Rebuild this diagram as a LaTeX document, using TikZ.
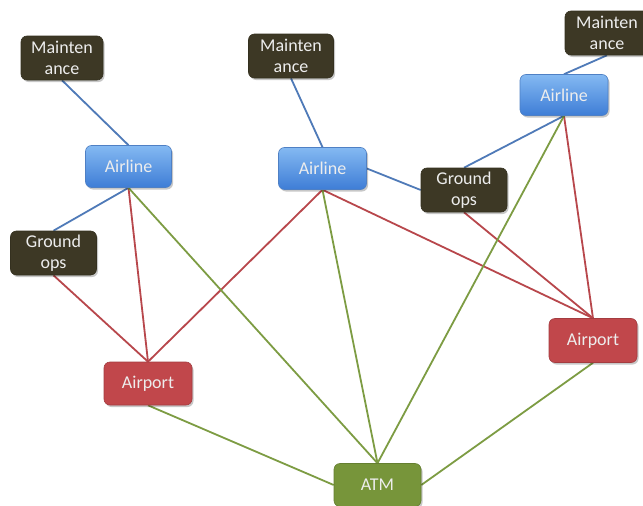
\documentclass[tikz,border=0pt]{standalone}
\usepackage{fontspec}
\setmainfont{Carlito}
\usetikzlibrary{shadows}

\definecolor{opsbrown}{HTML}{3D3825}
\definecolor{airtop}{HTML}{84B9F2}
\definecolor{airbot}{HTML}{3E7DD6}
\definecolor{airedge}{HTML}{4F80C4}
\definecolor{portred}{HTML}{C1474B}
\definecolor{atmgreen}{HTML}{77953A}
\definecolor{edgeblue}{HTML}{4F7AB8}
\definecolor{edgered}{HTML}{B8474C}
\definecolor{edgegreen}{HTML}{7D9C43}

\pgfdeclarelayer{paper}
\pgfdeclarelayer{links}
\pgfsetlayers{paper,links,main}

\tikzset{
  box/.style={rounded corners=6pt, minimum width=86pt, minimum height=44pt,
    inner sep=0pt, align=center, font=\fontsize{18}{20.5}\selectfont,
    text=white!93!black,
    drop shadow={shadow xshift=1.5pt, shadow yshift=-2pt, opacity=0.22, fill=black}},
  supportbox/.style={box, fill=opsbrown, draw=opsbrown!85!black, line width=0.6pt},
  airlinebox/.style={box, top color=airtop, bottom color=airbot, draw=airedge, line width=0.6pt},
  airportbox/.style={box, fill=portred, draw=portred!85!black, line width=0.6pt},
  atmbox/.style={box, fill=atmgreen, draw=atmgreen!85!black, line width=0.6pt},
  bluelink/.style={draw=edgeblue, line width=1.8pt},
  redlink/.style={draw=edgered, line width=1.8pt},
  greenlink/.style={draw=edgegreen, line width=1.8pt},
}

\begin{document}
\begin{tikzpicture}[x=1pt, y=-1pt]
  \clip (0,0) rectangle (643,506);
  \begin{pgfonlayer}{paper}
    \fill[white] (0,0) rectangle (643,506);
  \end{pgfonlayer}

  % maintenance and ground handling units
  \node[supportbox, minimum width=82pt] (m1) at (62,58) {Mainten\\ance};
  \node[supportbox, minimum width=85pt] (m2) at (291,56) {Mainten\\ance};
  \node[supportbox, minimum width=84pt] (m3) at (607,33) {Mainten\\ance};
  \node[supportbox] (g1) at (53.5,253) {Ground\\ops};
  \node[supportbox] (g2) at (464,190) {Ground\\ops};

  % airlines
  \node[airlinebox, minimum height=42pt] (a1) at (128.5,166.5) {Airline};
  \node[airlinebox, minimum width=88pt, minimum height=42pt] (a2) at (322.5,168.5) {Airline};
  \node[airlinebox, minimum width=88pt, minimum height=41pt] (a3) at (564,95) {Airline};

  % airports and air traffic management
  \node[airportbox, minimum width=88pt, minimum height=43pt] (p1) at (148,383.5) {Airport};
  \node[airportbox, minimum width=88pt] (p2) at (593,340.5) {Airport};
  \node[atmbox, minimum width=87pt, minimum height=43pt] (atm) at (377.5,485) {ATM};

  \begin{pgfonlayer}{links}
    % airline internal relations
    \draw[bluelink] (m1.south) -- (a1.north);
    \draw[bluelink] (m2.south) -- (a2.north);
    \draw[bluelink] (m3.south) -- (a3.north);
    \draw[bluelink] (a1.south) -- (g1.north);
    \draw[bluelink] (a3.south) -- (g2.north);
    \draw[bluelink] (a2.east) -- (g2.west);
    % airport relations
    \draw[redlink] (a1.south) -- (p1.north);
    \draw[redlink] (g1.south) -- (p1.north);
    \draw[redlink] (a2.south) -- (p1.north);
    \draw[redlink] (a2.south) -- (p2.north);
    \draw[redlink] (a3.south) -- (p2.north);
    \draw[redlink] (g2.south) -- (p2.north);
    % ATM relations
    \draw[greenlink] (a1.south) -- (atm.north);
    \draw[greenlink] (a2.south) -- (atm.north);
    \draw[greenlink] (a3.south) -- (atm.north);
    \draw[greenlink] (p1.south) -- (atm.west);
    \draw[greenlink] (p2.south) -- (atm.east);
  \end{pgfonlayer}
\end{tikzpicture}
\end{document}
